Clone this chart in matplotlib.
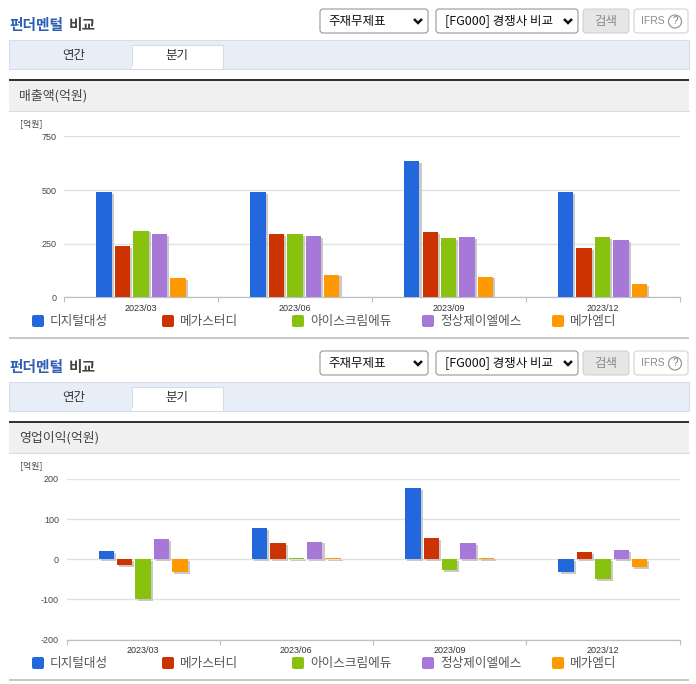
"""Two stacked fundamentals-comparison panels: quarterly sales and operating profit."""

import matplotlib
matplotlib.use("Agg")
import matplotlib.patheffects as pe
import matplotlib.pyplot as plt
from matplotlib.patches import Circle, FancyBboxPatch, Rectangle

plt.rcParams["font.family"] = ["Noto Sans CJK KR", "DejaVu Sans"]
plt.rcParams["axes.unicode_minus"] = False

W, H = 696, 684

# ======================================================================
# DATA
# ======================================================================

quarters = ["2023/03", "2023/06", "2023/09", "2023/12"]
companies = ["디지털대성", "메가스터디", "아이스크림에듀", "정상제이엘에스", "메가엠디"]
colors = ["#2268dc", "#cc3300", "#88c10e", "#a878d8", "#ff9900"]

sales_digital = [490, 490, 635, 490]
sales_mega = [240, 295, 305, 232]
sales_icecream = [312, 295, 277, 282]
sales_jungsang = [295, 285, 283, 268]
sales_megamd = [90, 107, 97, 63]
sales_ticks = [0, 250, 500, 750]

profit_digital = [21, 78, 178, -32]
profit_mega = [-14, 41, 53, 18]
profit_icecream = [-100, 2, -27, -49]
profit_jungsang = [51, 44, 41, 23]
profit_megamd = [-32, 2, 4, -20]
profit_ticks = [-200, -100, 0, 100, 200]

sales = [sales_digital, sales_mega, sales_icecream, sales_jungsang, sales_megamd]
profit = [profit_digital, profit_mega, profit_icecream, profit_jungsang, profit_megamd]

fig = plt.figure(figsize=(W / 100, H / 100), dpi=100, facecolor="white")

# page furniture is drawn in pixel coordinates on one full-size axes
page = fig.add_axes([0, 0, 1, 1], zorder=0)
page.set_xlim(0, W)
page.set_ylim(H, 0)
page.axis("off")


# ======================================================================
# HELPERS
# ======================================================================

def rounded(x0, y0, x1, y1, edge, face="white"):
    page.add_patch(FancyBboxPatch((x0 + 2, y0 + 2), x1 - x0 - 4, y1 - y0 - 4,
                                  boxstyle="round,pad=2,rounding_size=3",
                                  fc=face, ec=edge, lw=0.7))


def chevron(x, y):
    page.plot([x - 4, x, x + 4], [y - 2, y + 2, y - 2], color="#111111", lw=1.8,
              solid_capstyle="butt", solid_joinstyle="miter")


def draw_header(dy, section):
    """Title row, tab bar and grey section band; dy shifts it to the panel."""
    page.text(9.5, 25 + dy, "펀더멘털", color="#2f5fb3", fontsize=10.6, fontweight="bold", va="center")
    page.text(69, 25 + dy, "비교", color="#444444", fontsize=10.6, fontweight="bold", va="center")

    rounded(320, 9 + dy, 428, 33 + dy, "#888888")
    page.text(328, 21 + dy, "주재무제표", color="#111111", fontsize=9, va="center")
    chevron(418, 21 + dy)
    rounded(436, 9 + dy, 578, 33 + dy, "#888888")
    page.text(445, 21 + dy, "[FG000] 경쟁사 비교", color="#111111", fontsize=9, va="center")
    chevron(568, 21 + dy)
    rounded(583, 9 + dy, 629, 33 + dy, "#cccccc", "#e6e6e6")
    page.text(606, 21 + dy, "검색", color="#8a8a8a", fontsize=9, ha="center", va="center")
    rounded(634, 9 + dy, 688, 33 + dy, "#cccccc")
    page.text(641, 21 + dy, "IFRS", color="#8a8a8a", fontsize=7.5, va="center", family="Liberation Sans")
    page.add_patch(Circle((675, 21.5 + dy), 6.5, fc="white", ec="#999999", lw=0.9))
    page.text(675, 21.5 + dy, "?", color="#777777", fontsize=7, ha="center", va="center", family="Liberation Sans")

    page.add_patch(Rectangle((9, 39.5 + dy), 680, 29, fc="#e7eef8", ec="#d5dde9", lw=0.8))
    page.add_patch(Rectangle((131.5, 44.5 + dy), 91, 24, fc="white", ec="#d5dde9", lw=0.8))
    page.add_patch(Rectangle((132, 66 + dy), 90, 3, fc="white", ec="none"))
    page.text(74, 55.5 + dy, "연간", color="#333333", fontsize=9, ha="center", va="center")
    page.text(177, 55.5 + dy, "분기", color="#333333", fontsize=9, ha="center", va="center")

    page.add_patch(Rectangle((9, 81 + dy), 680, 30, fc="#f0f0f0", ec="none"))
    page.plot([9, 689], [111 + dy, 111 + dy], color="#dddddd", lw=0.8)
    page.add_patch(Rectangle((9, 79 + dy), 680, 2, fc="#333333", ec="none"))
    page.text(19, 96 + dy, section, color="#444444", fontsize=9.3, va="center")
    page.text(20, 124 + dy, "[억원]", color="#444444", fontsize=6.4, va="center")


def draw_legend(y, bottom_line):
    for i, (name, color) in enumerate(zip(companies, colors)):
        x = 32 + 130 * i
        page.add_patch(FancyBboxPatch((x + 1.5, y - 4.5), 9, 9, boxstyle="round,pad=1.5,rounding_size=2",
                                      fc=color, ec="none"))
        page.text(x + 18, y, name, color="#555555", fontsize=9.1, va="center")
    page.add_patch(Rectangle((9, bottom_line), 680, 2, fc="#c8c8c8", ec="none"))


def draw_chart(series, ticks, x0, x1, y_top, y_bottom):
    """Grouped bars inside the pixel box; the value range comes from the ticks."""
    ax = fig.add_axes([x0 / W, 1 - y_bottom / H, (x1 - x0) / W, (y_bottom - y_top) / H], zorder=1)
    ax.patch.set_alpha(0)

    width = 0.1
    pitch = 0.12
    shadow = [pe.withSimplePatchShadow(offset=(1.5, -1.3), shadow_rgbFace="#c4c4c4", alpha=0.9), pe.Normal()]
    for i, (values, color) in enumerate(zip(series, colors)):
        xs = [q + (i - 2) * pitch for q in range(len(quarters))]
        ax.bar(xs, values, width=width, color=color, zorder=3, path_effects=shadow)

    ax.set_xlim(-0.5, len(quarters) - 0.5)
    ax.set_ylim(ticks[0], ticks[-1])
    ax.set_yticks(ticks)
    ax.yaxis.grid(True, color="#dfe1e5", lw=1)
    ax.set_axisbelow(True)

    # group separators as major ticks, the quarter labels on minor ticks
    ax.set_xticks([q - 0.5 for q in range(len(quarters) + 1)])
    ax.set_xticklabels([])
    ax.set_xticks(range(len(quarters)), quarters, minor=True)
    ax.tick_params(axis="x", which="major", length=3.5, width=0.8, color="#b9c0cc")
    ax.tick_params(axis="x", which="minor", length=0, pad=4.5, labelsize=6.5, labelcolor="#333333")
    ax.tick_params(axis="y", length=0, pad=5.5, labelsize=6.5, labelcolor="#444444")
    for label in ax.get_xticklabels(minor=True) + ax.get_yticklabels():
        label.set_fontfamily("Liberation Sans")

    for side in ("top", "left", "right"):
        ax.spines[side].set_visible(False)
    ax.spines["bottom"].set_color("#b9c0cc")
    ax.spines["bottom"].set_linewidth(0.9)
    return ax


# ======================================================================
# PANELS
# ======================================================================

draw_header(0, "매출액(억원)")
draw_chart(sales, sales_ticks, 64, 679.5, 136.5, 297.5)
draw_legend(321, 337)

draw_header(342, "영업이익(억원)")
draw_chart(profit, profit_ticks, 66.5, 679.5, 479, 639.5)
draw_legend(663, 679)

fig.savefig("out.png", dpi=100)
